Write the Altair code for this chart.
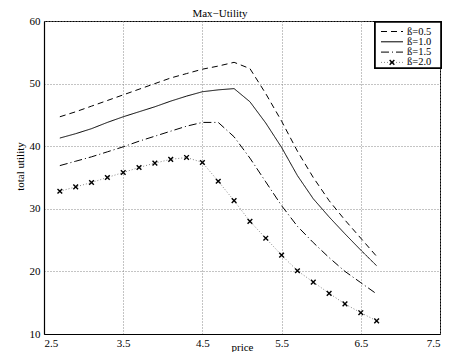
import altair as alt
import pandas as pd

price = [2.7, 2.9, 3.1, 3.3, 3.5, 3.7, 3.9, 4.1, 4.3, 4.5, 4.7,
         4.9, 5.1, 5.3, 5.5, 5.7, 5.9, 6.1, 6.3, 6.5, 6.7]
b05 = [44.7, 45.5, 46.4, 47.3, 48.2, 49.1, 50.0, 50.9, 51.6, 52.3, 52.8,
       53.4, 52.4, 48.4, 44.0, 39.2, 35.0, 31.3, 28.2, 25.3, 22.4]
b10 = [41.3, 42.0, 42.8, 43.8, 44.7, 45.5, 46.3, 47.2, 48.0, 48.7, 49.0,
       49.2, 47.1, 43.7, 39.8, 35.3, 31.6, 28.7, 26.0, 23.4, 20.9]
b15 = [36.9, 37.6, 38.3, 39.1, 39.9, 40.8, 41.6, 42.4, 43.2, 43.8, 43.8,
       41.5, 38.1, 34.3, 30.5, 27.2, 24.6, 22.2, 20.0, 18.2, 16.4]
b20 = [32.8, 33.5, 34.2, 35.0, 35.8, 36.6, 37.3, 37.9, 38.2, 37.4, 34.4,
       31.3, 28.0, 25.3, 22.6, 20.1, 18.3, 16.5, 14.8, 13.4, 12.1]

series_names = ["ß=0.5", "ß=1.0", "ß=1.5", "ß=2.0"]
x_ticks = [2.5, 3.5, 4.5, 5.5, 6.5, 7.5]
y_ticks = [10, 20, 30, 40, 50, 60]

rows = []
for name, vals in zip(series_names, [b05, b10, b15, b20]):
    for p, v in zip(price, vals):
        rows.append({"price": p, "utility": v, "series": name})
df = pd.DataFrame(rows)

leg = pd.DataFrame({"series": series_names, "idx": list(range(len(series_names)))})

FONT = "Liberation Serif"
dash_scale = alt.Scale(domain=series_names, range=[[6, 4], [1, 0], [8, 3, 1, 3], [1, 2]])
color_scale = alt.Scale(domain=series_names, range=["black", "black", "black", "#888888"])
xshape = "M-1,-1L1,1M1,-1L-1,1"

x_enc = alt.X("price:Q", scale=alt.Scale(domain=[2.5, 7.5], nice=False),
              axis=alt.Axis(values=x_ticks, format=".1f", title="price",
                            titleY=16, titleBaseline="alphabetic",
                            labelPadding=3))
y_enc = alt.Y("utility:Q", scale=alt.Scale(domain=[10, 60], nice=False),
              axis=alt.Axis(values=y_ticks, title="total utility",
                            titleX=-24, titleY=145, titleAngle=270,
                            titleBaseline="middle", titleAlign="center",
                            labelPadding=4))

lines = alt.Chart(df).mark_line(strokeWidth=1).encode(
    x=x_enc, y=y_enc,
    strokeDash=alt.StrokeDash("series:N", scale=dash_scale, legend=None),
    color=alt.Color("series:N", scale=color_scale, legend=None),
)

pts = alt.Chart(df).transform_filter(alt.datum.series == "ß=2.0").mark_point(
    shape=xshape, filled=False, color="black", strokeWidth=1.4, size=22, opacity=1
).encode(x="price:Q", y="utility:Q")

box = alt.Chart(leg).mark_rect(fill="white", stroke="black", strokeWidth=1.6).encode(
    x=alt.value(331), x2=alt.value(397), y=alt.value(1), y2=alt.value(47)
)

leg_base = alt.Chart(leg).transform_calculate(ly="10.5 + 10.3 * datum.idx")

leg_lines = leg_base.mark_rule(strokeWidth=1).encode(
    x=alt.value(337), x2=alt.value(359),
    y=alt.Y("ly:Q", scale=None),
    strokeDash=alt.StrokeDash("series:N", scale=dash_scale, legend=None),
    color=alt.Color("series:N", scale=color_scale, legend=None),
)

leg_pt = leg_base.transform_filter(alt.datum.series == "ß=2.0").mark_point(
    shape=xshape, filled=False, color="black", strokeWidth=1.4, size=22, opacity=1
).encode(x=alt.value(348), y=alt.Y("ly:Q", scale=None))

leg_text = leg_base.mark_text(align="left", baseline="middle", font=FONT,
                              fontSize=10.5, color="black").encode(
    x=alt.value(363), y=alt.Y("ly:Q", scale=None), text="series:N"
)

chart = alt.layer(lines, pts, box, leg_lines, leg_pt, leg_text).properties(
    width=396, height=313,
    background="white",
    title=alt.TitleParams("Max\u2212Utility", font=FONT, fontSize=11,
                          fontWeight="normal", color="black",
                          dx=-22, dy=8, offset=4),
    autosize=alt.AutoSizeParams(type="none"),
    padding={"left": 36, "top": 13, "right": 5, "bottom": 18},
).configure_view(stroke="black", strokeWidth=1).configure_axis(
    labelFont=FONT, titleFont=FONT, labelFontSize=11, titleFontSize=11,
    titleFontWeight="normal", labelColor="black", titleColor="black",
    domainColor="black", domainWidth=1.2, ticks=False,
    gridColor="#888888", gridDash=[1, 2], gridWidth=1, gridOpacity=1,
)

chart.save("out.html", embed_options={"renderer": "svg", "actions": False})
